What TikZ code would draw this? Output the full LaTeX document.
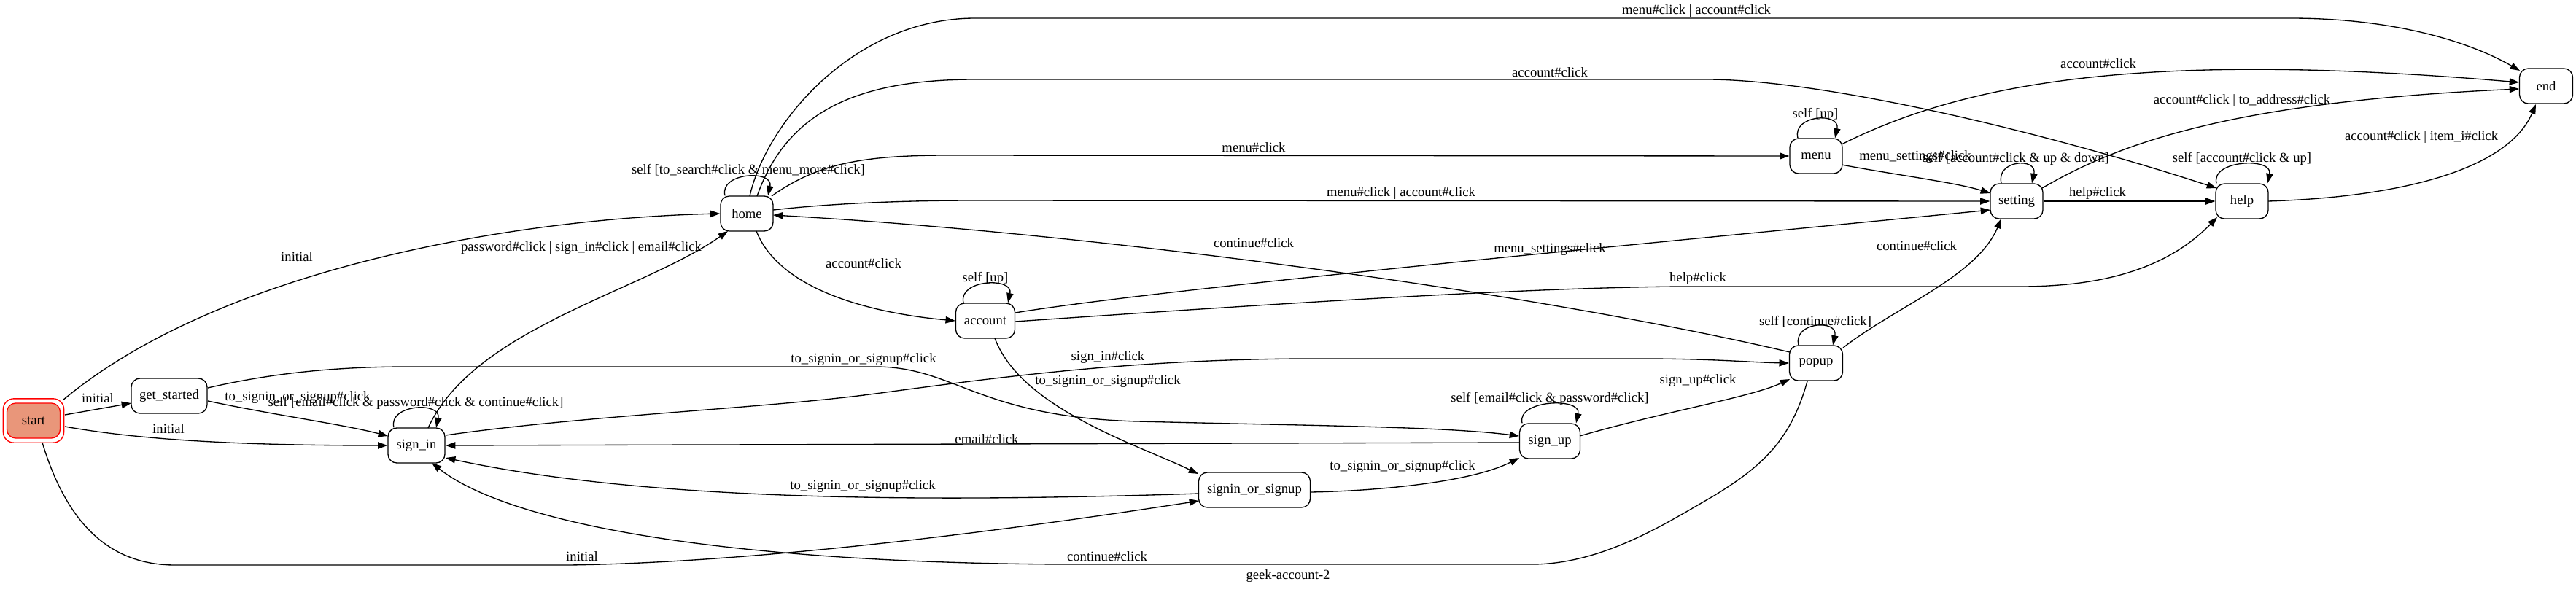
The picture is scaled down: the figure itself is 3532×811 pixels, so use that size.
\documentclass[tikz,border=0pt]{standalone}
\usepackage{fontspec}
\setmainfont{Liberation Serif}
\usetikzlibrary{arrows.meta,calc}
\definecolor{startfill}{HTML}{E9967A}
\newcommand{\myloop}[3]{\draw[arr] ($(#1.north)+(#2,0)$) .. controls +(-8,-32) and +(8,-36) .. ($(#1.north)+(#3,0)$);}
\begin{document}
\begin{tikzpicture}[x=0.75pt,y=-0.75pt,
  st/.style={draw, line width=1pt, rounded corners=9pt, minimum height=36pt, inner sep=0pt, font=\fontsize{14}{16}\selectfont},
  arr/.style={draw, line width=1pt, -{Triangle[length=10pt,width=7pt]}},
  lab/.style={inner sep=0pt, font=\fontsize{14}{16}\selectfont}]
\useasboundingbox (0,0) rectangle (3532,811);
% nodes
\node[st, draw=red, fill=startfill, minimum width=54.75pt] (start) at (46,577) {start};
\draw[red, line width=1pt, rounded corners=11pt] ($(start.south west)+(-4.5,5.5)$) rectangle ($(start.north east)+(4.5,-5.5)$);
\node[st, minimum width=78pt] (getstarted) at (232,543) {get\_started};
\node[st, minimum width=58.5pt] (signin) at (571,611) {sign\_in};
\node[st, minimum width=54pt] (home) at (1024,293) {home};
\node[st, minimum width=60.75pt] (account) at (1351,440) {account};
\node[st, minimum width=114.75pt] (sos) at (1720,672) {signin\_or\_signup};
\node[st, minimum width=62.25pt] (signup) at (2125,605) {sign\_up};
\node[st, minimum width=54.75pt] (popup) at (2490,498) {popup};
\node[st, minimum width=54pt] (menu) at (2490,214) {menu};
\node[st, minimum width=54pt] (setting) at (2765,276) {setting};
\node[st, minimum width=54pt] (help) at (3074,276) {help};
\node[st, minimum width=54.75pt] (end) at (3491,118) {end};
% edges
\draw[arr] ($(start)+(40,-28)$) .. controls (300,370) and (700,300) .. (home.west);
\draw[arr] ($(start)+(43,-8)$) -- ($(getstarted)+(-52,10)$);
\draw[arr] ($(start)+(43,8)$) .. controls (200,605) and (350,611) .. (signin.west);
\draw[arr] ($(start)+(12,30)$) .. controls (95,730) and (160,775) .. (240,775) -- (780,775) .. controls (1000,772) and (1300,740) .. ($(sos)+(-76,15)$);
\draw[arr] ($(getstarted)+(53,7)$) .. controls (380,570) and (470,582) .. ($(signin)+(-39,-13)$);
\draw[arr] ($(getstarted)+(53,-11)$) .. controls (380,510) and (470,503) .. (560,503) -- (1200,503) .. controls (1310,503) and (1340,572) .. (1560,578) .. controls (1800,584) and (1980,585) .. ($(signup)+(-42,-7)$);
\draw[arr] ($(signin)+(16,-24)$) .. controls (650,450) and (880,400) .. ($(home)+(-26,24)$);
\draw[arr] ($(signin)+(40,-14)$) .. controls (800,570) and (1050,560) .. (1200,540) .. controls (1350,520) and (1550,492) .. (1800,492) -- (2250,492) .. controls (2350,492) and (2400,497) .. (popup.west);
\draw[arr] ($(signup)+(-42,2)$) -- ($(signin)+(40,0)$);
\draw[arr] ($(sos)+(-76,5)$) .. controls (1300,688) and (900,690) .. ($(signin)+(40,17)$);
\draw[arr] ($(sos)+(77,3)$) .. controls (1900,673) and (2020,660) .. ($(signup)+(-42,23)$);
\draw[arr] ($(signup)+(41,-7)$) .. controls (2280,565) and (2400,545) .. ($(popup)+(-36,22)$);
\draw[arr] ($(popup)+(-12,25)$) .. controls (2455,605) and (2415,640) .. (2350,680) .. controls (2290,714) and (2200,774) .. (2100,774) -- (1460,774) .. controls (1000,772) and (700,720) .. ($(signin)+(21,24)$);
\draw[arr] ($(popup)+(37,-21)$) .. controls (2600,420) and (2710,380) .. ($(setting)+(-21,24)$);
\draw[arr] ($(popup)+(-36,-15)$) .. controls (2100,400) and (1500,320) .. ($(home)+(36,2)$);
\draw[arr] ($(home)+(34,-24)$) .. controls (1120,225) and (1180,213) .. (1300,213) -- (menu.west);
\draw[arr] ($(home)+(36,-5)$) .. controls (1150,278) and (1250,275) .. (1337,275) -- (setting.west);
\draw[arr] ($(home)+(4,-24)$) .. controls (1050,170) and (1170,25) .. (1337,25) -- (3140,25) .. controls (3300,25) and (3400,65) .. ($(end)+(-36,-21)$);
\draw[arr] ($(home)+(14,-24)$) .. controls (1080,150) and (1180,109) .. (1337,109) -- (2340,109) .. controls (2500,109) and (2800,180) .. ($(help)+(-35,-18)$);
\draw[arr] ($(home)+(13,24)$) .. controls (1070,400) and (1200,430) .. (account.west);
\draw[arr] ($(account)+(41,-11)$) .. controls (1600,395) and (2300,330) .. ($(setting)+(-36,12)$);
\draw[arr] ($(account)+(41,1)$) .. controls (1700,420) and (2100,393) .. (2320,393) -- (2770,393) .. controls (2880,393) and (2970,370) .. ($(help)+(-34,22)$);
\draw[arr] ($(account)+(13,24)$) .. controls (1400,560) and (1560,610) .. ($(sos)+(-77,-22)$);
\draw[arr] ($(menu)+(35,-16)$) .. controls (2700,110) and (2950,70) .. ($(end)+(-37,-5)$);
\draw[arr] ($(menu)+(35,12)$) .. controls (2600,240) and (2680,250) .. ($(setting)+(-36,-11)$);
\draw[arr] ($(setting)+(35,-18)$) .. controls (2900,200) and (3050,140) .. ($(end)+(-37,4)$);
\draw[arr] (setting.east) -- (help.west);
\draw[arr] ($(help)+(36,0)$) .. controls (3300,270) and (3440,230) .. ($(end)+(-14,25)$);
% self loops
\myloop{home}{-30}{29}
\myloop{signin}{-31}{27}
\myloop{account}{-30}{31}
\myloop{signup}{-38}{36}
\myloop{popup}{-24}{23}
\myloop{menu}{-25}{26}
\myloop{setting}{-21}{21}
\myloop{help}{-35}{35}
% labels
\node[lab] (l1) at (407,352) {initial};
\node[lab] (l2) at (134,546) {initial};
\node[lab] (l3) at (231,588) {initial};
\node[lab] (l4) at (798,763) {initial};
\node[lab] (l5) at (408,545) {to\_signin\_or\_signup\#click};
\node[lab] (l6) at (1184,493) {to\_signin\_or\_signup\#click};
\node[lab] (l7) at (797,340) {password\#click | sign\_in\#click | email\#click};
\node[lab] (l9) at (1519,490) {sign\_in\#click};
\node[lab] (l10) at (1353,602) {email\#click};
\node[lab] (l11) at (1183,667) {to\_signin\_or\_signup\#click};
\node[lab] (l12) at (1923,640) {to\_signin\_or\_signup\#click};
\node[lab] (l13) at (2328,522) {sign\_up\#click};
\node[lab] (l14) at (1518,763) {continue\#click};
\node[lab] (l15) at (2628,337) {continue\#click};
\node[lab] (l16) at (1719,333) {continue\#click};
\node[lab] (l18) at (1719,202) {menu\#click};
\node[lab] (l19) at (1921,265) {menu\#click | account\#click};
\node[lab] (l20) at (2326,15) {menu\#click | account\#click};
\node[lab] (l21) at (2125,99) {account\#click};
\node[lab] (l22) at (1184,361) {account\#click};
\node[lab] (l24) at (2125,342) {menu\_settings\#click};
\node[lab] (l25) at (2328,382) {help\#click};
\node[lab] (l26) at (1519,523) {to\_signin\_or\_signup\#click};
\node[lab] (l28) at (2877,87) {account\#click};
\node[lab] (l29) at (2626,215) {menu\_settings\#click};
\node[lab] (l31) at (3074,138) {account\#click | to\_address\#click};
\node[lab] (l32) at (2876,265) {help\#click};
\node[lab] (l34) at (3320,188) {account\#click | item\_i\#click};
\node[lab] (s1) at (1026,233) {self [to\_search\#click \& menu\_more\#click]};
\node[lab] (s2) at (570,553) {self [email\#click \& password\#click \& continue\#click]};
\node[lab] (s3) at (1351,382) {self [up]};
\node[lab] (s4) at (2125,547) {self [email\#click \& password\#click]};
\node[lab] (s5) at (2489,441) {self [continue\#click]};
\node[lab] (s6) at (2489,157) {self [up]};
\node[lab] (s7) at (2764,218) {self [account\#click \& up \& down]};
\node[lab] (s8) at (3074,218) {self [account\#click \& up]};
\node[lab] (gl) at (1766,790) {geek-account-2};
\end{tikzpicture}
\end{document}
